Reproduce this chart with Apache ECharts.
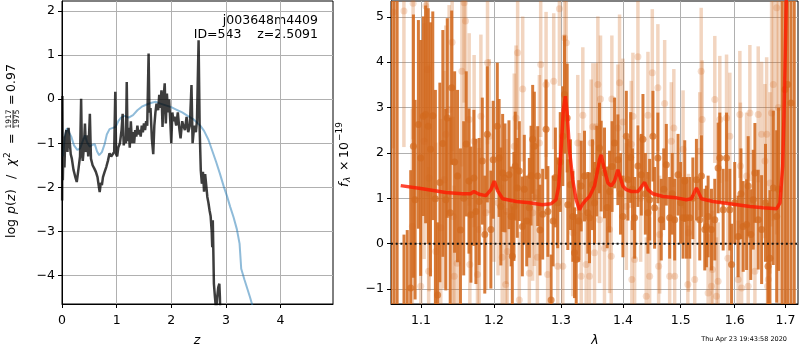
<!DOCTYPE html>
<html>
<head>
<meta charset="utf-8">
<script src="https://cdn.jsdelivr.net/npm/echarts@6/dist/echarts.min.js"></script>
<style>
    html, body { margin: 0; padding: 0; background: #fff; }
    #main { width: 800px; height: 350px; }
</style>
</head>
<body>
<div id="main"></div>
<script type="text/javascript">
// ---- left panel: p(z) and chi2 curves ----
var pzZ = [0.003,0.008,0.015,0.03,0.045,0.06,0.08,0.10,0.12,0.14,
    0.16,0.18,0.21,0.24,0.27,0.30,0.33,0.35,0.365,0.38,
    0.40,0.42,0.44,0.46,0.48,0.51,0.53,0.56,0.59,0.62,
    0.65,0.67,0.69,0.71,0.73,0.75,0.78,0.81,0.84,0.87,
    0.90,0.93,0.955,0.975,0.99,1.01,1.03,1.06,1.09,1.11,
    1.13,1.15,1.17,1.185,1.20,1.22,1.24,1.26,1.28,1.30,
    1.32,1.34,1.36,1.38,1.40,1.42,1.44,1.46,1.48,1.50,
    1.52,1.54,1.56,1.585,1.60,1.62,1.645,1.67,1.69,1.71,
    1.73,1.76,1.78,1.80,1.82,1.84,1.86,1.88,1.90,1.92,
    1.94,1.96,1.98,2.00,2.02,2.04,2.06,2.09,2.12,2.15,
    2.17,2.20,2.22,2.25,2.28,2.31,2.34,2.37,2.39,2.42,
    2.45,2.47,2.50,2.52,2.54,2.56,2.58,2.60,2.62,2.64,
    2.66,2.68,2.70,2.72,2.74,2.75,2.76,2.78,2.80,2.82,
    2.84,2.86,2.88,2.89,2.90];
var pzLogp = [-2.3,0.07,-1.84,-0.85,-1.55,-0.85,-0.70,-1.20,-0.65,-0.63,
    -1.25,-1.35,-1.60,-1.75,-1.88,-1.60,-1.30,0.01,-1.20,-1.40,
    -1.10,-0.55,-1.20,-0.82,-1.30,-0.33,-1.35,-1.50,-1.57,-1.65,
    -1.77,-1.95,-2.11,-1.90,-1.95,-1.77,-1.65,-1.54,-1.40,-1.23,
    -1.30,-1.31,-1.20,0.17,-1.25,-1.30,-1.10,-1.00,-0.70,-0.33,
    -1.05,-0.85,-1.00,0.39,-0.95,-0.65,-1.10,-0.50,-1.00,-0.75,
    -1.00,-0.70,-0.85,-0.60,-0.80,-0.70,-0.85,-0.60,-0.75,-0.55,
    -0.70,-0.50,-0.60,1.04,-0.30,-0.20,-0.90,-1.25,-0.60,-0.30,
    -0.10,-0.25,0.10,-0.20,0.20,-0.63,0.05,0.36,-0.55,0.13,
    -0.30,0.00,-0.45,-1.00,-0.30,-0.50,-0.40,-0.60,-0.30,-0.70,
    -0.89,-0.50,-0.60,-0.70,-0.40,-0.75,-0.60,0.32,-1.00,-0.60,
    -0.75,-0.50,1.34,-0.70,-1.61,-1.92,-1.65,-2.10,-1.70,-1.69,
    -2.22,-2.35,-2.52,-2.65,-3.00,-3.36,-2.75,-4.19,-4.50,-4.80,
    -4.50,-4.27,-4.19,-4.50,-5.00];

var chiZ = [0.02,0.05,0.09,0.12,0.17,0.22,0.28,0.33,0.38,0.42,
    0.46,0.51,0.55,0.60,0.64,0.68,0.73,0.78,0.82,0.87,
    0.93,0.98,1.03,1.08,1.15,1.22,1.30,1.38,1.46,1.55,
    1.64,1.72,1.80,1.90,2.00,2.10,2.20,2.30,2.40,2.47,
    2.53,2.60,2.68,2.75,2.82,2.89,2.96,3.02,3.08,3.14,
    3.20,3.25,3.28,3.34,3.44,3.50];
var chiVal = [-1.30,-0.85,-0.66,-0.68,-0.85,-1.05,-1.15,-1.12,-0.95,-0.82,
    -0.98,-1.08,-1.04,-1.02,-1.18,-1.27,-1.20,-1.02,-0.80,-0.68,
    -0.65,-0.63,-0.50,-0.42,-0.38,-0.42,-0.36,-0.25,-0.17,-0.12,
    -0.08,-0.06,-0.10,-0.14,-0.18,-0.24,-0.30,-0.38,-0.45,-0.53,
    -0.60,-0.72,-0.92,-1.17,-1.42,-1.69,-1.98,-2.20,-2.45,-2.68,
    -2.95,-3.28,-3.85,-4.10,-4.49,-4.75];

// ---- right panel: spectrum ----
var darkLam = [1.0609,1.0650,1.0690,1.0778,1.0820,1.0865,1.0900,1.0922,1.0965,1.0995,
    1.1030,1.1060,1.1095,1.1125,1.1155,1.1190,1.1220,1.1250,1.1290,1.1330,
    1.1350,1.1390,1.1410,1.1450,1.1490,1.1530,1.1575,1.1610,1.1648,1.1675,
    1.1717,1.1745,1.1790,1.1835,1.1870,1.1906,1.1957,1.1990,1.2049,1.2075,
    1.2100,1.2126,1.2160,1.2218,1.2250,1.2267,1.2291,1.2310,1.2340,1.2370,
    1.2415,1.2444,1.2480,1.2519,1.2545,1.2569,1.2594,1.2645,1.2680,1.2720,
    1.2772,1.2800,1.2849,1.2880,1.2915,1.2950,1.2990,1.3030,1.3056,1.3098,
    1.3108,1.3150,1.3187,1.3213,1.3240,1.3280,1.3319,1.3372,1.3425,1.3452,
    1.3500,1.3533,1.3570,1.3614,1.3641,1.3695,1.3740,1.3778,1.3820,1.3861,
    1.3916,1.3960,1.4000,1.4057,1.4084,1.4130,1.4160,1.4197,1.4253,1.4311,
    1.4339,1.4380,1.4425,1.4454,1.4511,1.4540,1.4597,1.4656,1.4700,1.4745,
    1.4804,1.4850,1.4893,1.4953,1.5000,1.5043,1.5073,1.5104,1.5163,1.5220,
    1.5285,1.5346,1.5377,1.5438,1.5469,1.5500,1.5562,1.5624,1.5686,1.5718,
    1.5781,1.5845,1.5907,1.5940,1.6000,1.6066,1.6120,1.6163,1.6229,1.6260,
    1.6310,1.6358,1.6391,1.6456,1.6523,1.6600,1.6650,1.6688,1.6755,1.6823,
    1.6860,1.6930,1.6991,1.7046,1.7113,1.7180];
var darkFlux = [6.5,-2.5,7.0,-1.9,-1.5,-0.98,2.15,0.97,2.63,1.89,
    2.81,2.85,2.59,2.08,2.82,0.99,-1.13,1.35,2.21,0.97,
    2.77,0.68,3.44,1.80,1.49,0.30,1.00,2.20,1.38,0.64,
    1.45,0.71,0.93,1.82,0.20,2.41,0.31,1.85,2.59,1.89,
    0.82,1.56,1.45,1.52,0.60,-0.28,0.82,1.71,1.23,1.60,
    0.38,1.20,0.50,0.79,1.50,2.30,2.15,1.49,0.30,0.65,
    2.52,0.71,-1.24,0.50,1.46,0.90,1.80,2.37,3.29,2.77,
    0.86,1.30,0.60,-0.20,-0.35,0.50,1.27,1.49,0.68,0.57,
    1.30,0.90,1.60,2.11,1.71,1.56,0.80,1.15,1.70,2.22,
    1.85,1.10,0.60,2.37,1.41,1.90,1.20,0.57,1.71,1.52,
    2.30,1.10,0.68,0.97,2.37,0.79,1.89,0.53,1.20,1.74,
    0.57,1.10,0.53,1.52,0.90,0.57,1.38,0.57,0.57,1.00,
    1.41,0.53,1.49,0.31,0.38,0.60,0.31,0.53,1.67,1.89,
    0.75,1.89,0.75,-0.46,0.90,0.16,1.10,0.38,0.42,1.27,
    0.20,0.97,1.56,0.53,0.31,0.90,-0.50,-0.32,1.23,0.60,
    1.20,6.0,3.40,3.51,3.10,-2.0];
var darkErr = [10,10,10,2.1,1.8,2.6,2.9,2.2,2.3,2.6,
    2.2,2.4,2.6,2.8,2.3,2.4,1.6,2.2,2.5,2.0,
    2.2,2.1,1.7,2.0,1.9,1.8,1.7,1.6,1.6,1.5,
    1.5,1.6,1.4,1.4,1.3,1.5,1.3,1.3,1.4,1.3,
    1.3,1.3,1.2,1.2,1.1,1.1,1.2,1.2,1.1,1.1,
    1.1,1.2,1.0,1.1,1.1,1.2,1.2,1.1,1.0,1.0,
    1.1,1.0,1.0,1.0,1.1,1.0,1.1,1.1,1.3,1.2,
    1.0,1.0,1.0,1.0,1.0,0.9,1.0,1.0,0.9,1.0,
    1.0,0.9,1.0,1.0,1.0,1.0,0.9,0.9,1.0,1.0,
    1.0,0.9,0.9,1.0,0.9,1.0,0.9,0.9,0.9,0.9,
    1.0,0.9,0.9,0.9,1.0,0.9,1.0,0.9,0.9,0.9,
    0.9,0.9,0.9,0.9,0.9,0.9,0.9,0.9,0.9,0.9,
    0.9,0.9,0.9,0.9,0.9,0.9,0.9,0.9,1.0,1.0,
    0.9,1.0,0.9,0.9,0.9,0.9,1.0,1.0,1.0,1.1,
    1.0,1.1,1.1,1.1,1.2,1.3,1.4,1.5,1.7,1.9,
    1.8,10,10,10,10,10];

var lightLam = [1.0640,1.0777,1.0886,1.0896,1.0996,1.1040,1.1062,1.1083,1.1100,1.1106,
    1.1195,1.1262,1.1307,1.1330,1.1375,1.1416,1.1430,1.1444,1.1485,1.1550,
    1.1581,1.1600,1.1651,1.1660,1.1720,1.1767,1.1791,1.1815,1.1886,1.1909,
    1.1933,1.2000,1.2060,1.2120,1.2170,1.2185,1.2194,1.2296,1.2322,1.2345,
    1.2370,1.2420,1.2519,1.2569,1.2594,1.2640,1.2670,1.2690,1.2772,1.2796,
    1.2889,1.2951,1.2977,1.3030,1.3057,1.3084,1.3187,1.3265,1.3290,1.3319,
    1.3345,1.3399,1.3452,1.3479,1.3506,1.3533,1.3560,1.3587,1.3614,1.3630,
    1.3695,1.3778,1.3806,1.3816,1.3916,1.3944,1.4000,1.4057,1.4140,1.4150,
    1.4168,1.4197,1.4253,1.4300,1.4396,1.4425,1.4454,1.4500,1.4597,1.4610,
    1.4628,1.4716,1.4804,1.4833,1.4878,1.4893,1.5043,1.5129,1.5140,1.5254,
    1.5346,1.5372,1.5390,1.5500,1.5562,1.5580,1.5624,1.5655,1.5686,1.5718,
    1.5845,1.5870,1.5907,1.6066,1.6099,1.6110,1.6132,1.6229,1.6260,1.6293,
    1.6391,1.6456,1.6523,1.6589,1.6623,1.6640,1.6656,1.6688,1.6721,1.6755,
    1.6823,1.6856];
var lightFlux = [5.10,5.13,0.38,5.30,-0.94,2.26,5.24,3.84,-0.61,1.45,
    -0.17,0.35,1.41,2.41,2.96,4.44,0.60,-0.72,-0.43,3.80,
    5.31,4.91,2.74,-0.46,2.26,-0.68,0.31,2.81,0.68,3.99,
    2.37,1.30,0.90,-0.30,-0.90,0.71,-0.17,2.15,2.77,4.21,
    -1.24,3.41,-0.65,0.68,1.01,-0.30,2.22,3.95,3.51,-0.68,
    3.58,-0.50,5.18,-0.50,4.54,4.43,0.24,2.22,1.04,-0.72,
    2.83,-0.46,-0.72,2.22,2.58,-0.20,2.58,3.51,0.53,3.19,
    -0.10,0.31,-0.28,3.19,2.55,3.55,2.68,0.82,2.19,-0.79,
    2.81,-0.35,4.12,1.00,-1.16,2.83,-0.72,3.77,3.44,-0.50,
    0.20,3.09,-0.72,2.26,2.55,-0.72,2.08,-0.90,0.24,-0.79,
    2.04,3.80,2.74,-1.09,-0.94,-0.57,3.18,-1.16,-0.83,2.74,
    2.77,-0.32,2.37,-0.79,2.85,1.71,-0.98,1.49,-0.94,2.88,
    -0.61,2.85,2.41,1.82,2.41,-0.94,-0.79,1.34,2.88,3.51,
    5.20,3.00];
var lightErr = [3.0,3.0,2.6,3.0,2.2,2.6,3.0,2.8,2.3,2.5,
    2.4,2.4,2.4,2.4,2.3,2.4,2.2,2.0,2.0,2.1,
    2.2,2.2,1.9,1.9,1.9,1.8,1.8,1.8,1.7,1.8,
    1.7,1.7,1.6,1.6,1.6,1.6,1.6,1.6,1.6,1.7,
    1.5,1.6,1.5,1.5,1.5,1.5,1.5,1.6,1.6,1.5,
    1.5,1.5,1.7,1.5,1.6,1.6,1.4,1.5,1.4,1.4,
    1.5,1.4,1.4,1.4,1.4,1.4,1.4,1.5,1.4,1.4,
    1.4,1.4,1.4,1.4,1.4,1.5,1.4,1.4,1.4,1.3,
    1.4,1.4,1.5,1.4,1.3,1.4,1.3,1.4,1.4,1.3,
    1.3,1.4,1.3,1.3,1.3,1.3,1.3,1.3,1.3,1.3,
    1.3,1.4,1.3,1.3,1.3,1.3,1.4,1.3,1.3,1.4,
    1.4,1.3,1.4,1.3,1.4,1.4,1.3,1.4,1.4,1.5,
    1.5,1.5,1.6,1.7,1.7,1.7,1.8,2.0,2.5,3.0,
    5.0,5.0];

var modelLam = [1.0736,1.1017,1.1330,1.1555,1.1671,1.1717,1.1745,1.1791,1.1886,1.1957,
    1.2005,1.2053,1.2126,1.2325,1.2519,1.2714,1.2849,1.2925,1.2966,1.3003,
    1.3039,1.3070,1.3097,1.3133,1.3185,1.3239,1.3292,1.3344,1.3399,1.3452,
    1.3533,1.3614,1.3641,1.3695,1.3750,1.3806,1.3861,1.3916,1.3944,1.3999,
    1.4056,1.4141,1.4253,1.4338,1.4368,1.4425,1.4511,1.4686,1.4924,1.5103,
    1.5194,1.5285,1.5377,1.5592,1.5907,1.6293,1.6554,1.6822,1.6889,1.6944,
    1.6970,1.6991,1.7021];
var modelFlux = [1.28,1.21,1.13,1.10,1.10,1.15,1.17,1.09,1.06,1.19,
    1.38,1.17,0.99,0.93,0.90,0.86,0.88,0.97,1.27,2.08,
    2.96,3.25,2.89,2.08,1.41,0.97,0.75,0.88,0.97,1.04,
    1.27,1.85,1.96,1.63,1.34,1.27,1.38,1.63,1.65,1.27,
    1.19,1.15,1.15,1.30,1.35,1.19,1.10,1.04,1.01,0.97,
    0.99,1.23,0.99,0.93,0.88,0.82,0.79,0.77,0.90,1.71,
    2.81,3.91,5.60];

var zTicks = [0, 1, 2, 3, 4];
var pzTicks = [-4, -3, -2, -1, 0, 1, 2];
var lamTicks = [1.1, 1.2, 1.3, 1.4, 1.5, 1.6, 1.7];
var fluxTicks = [-1, 0, 1, 2, 3, 4, 5];

var LAM_MIN = 1.0612, LAM_MAX = 1.7257;
var F_MIN = -1.33, F_MAX = 5.35;
var FONT = '"DejaVu Sans"';
var DARK = 'rgba(210,105,30,0.88)';
var LIGHT = 'rgba(210,105,30,0.28)';

function zip(a, b) {
    var out = [];
    for (var i = 0; i < a.length; i++) out.push([a[i], b[i]]);
    return out;
}
function spec(lam, flux, err) {
    var out = [];
    for (var i = 0; i < lam.length; i++) out.push([Math.log(lam[i]), flux[i], err ? err[i] : 0]);
    return out;
}
function minus(v) { return String(v).replace('-', '\u2212'); }

function errBar(color, width) {
    return function (params, api) {
        var x = api.value(0), y = api.value(1), e = api.value(2);
        var lo = Math.max(y - e, F_MIN - 0.2), hi = Math.min(y + e, F_MAX + 0.2);
        var p1 = api.coord([x, lo]), p2 = api.coord([x, hi]);
        return {
            type: 'line',
            shape: { x1: p1[0], y1: p1[1], x2: p2[0], y2: p2[1] },
            style: { stroke: color, lineWidth: width }
        };
    };
}

// rotated label pieces (local x runs bottom -> top on screen)
function piece(text, x, y, font, align) {
    return {
        type: 'text', x: x, y: y,
        style: {
            text: text, fill: '#000', font: font + ' ' + FONT,
            align: align || 'left', textAlign: align || 'left',
            verticalAlign: 'middle', textVerticalAlign: 'middle'
        }
    };
}

var tickLabel = { color: '#000', fontSize: 12.5, fontFamily: FONT };
var axisLine = { show: true, onZero: false, lineStyle: { color: '#000', width: 1 } };
var gridLine = { show: true, lineStyle: { color: '#b0b0b0', width: 1 } };

var myChart = echarts.init(document.getElementById('main'), null, { renderer: 'canvas' });

var lamLog = lamTicks.map(Math.log);

var option = {
    animation: false,
    backgroundColor: '#fff',
    grid: [
        { left: 62, top: 1, width: 271, height: 303, show: true, borderColor: '#000', borderWidth: 1, backgroundColor: 'transparent' },
        { left: 391, top: 1, width: 407, height: 303, show: true, borderColor: '#000', borderWidth: 1, backgroundColor: 'transparent' }
    ],
    xAxis: [
        {
            gridIndex: 0, type: 'value', min: 0, max: 4.96,
            axisLine: axisLine,
            axisTick: { show: true, length: 4, lineStyle: { color: '#000' }, customValues: zTicks },
            axisLabel: Object.assign({ margin: 10, customValues: zTicks, formatter: minus }, tickLabel),
            splitLine: gridLine
        },
        {
            gridIndex: 1, type: 'value', min: Math.log(LAM_MIN), max: Math.log(LAM_MAX),
            axisLine: axisLine,
            axisTick: { show: true, length: 4, lineStyle: { color: '#000' }, customValues: lamLog },
            axisLabel: Object.assign({
                margin: 10, customValues: lamLog,
                formatter: function (v) { return Math.exp(v).toFixed(1); }
            }, tickLabel),
            splitLine: gridLine
        }
    ],
    yAxis: [
        {
            gridIndex: 0, type: 'value', min: -4.65, max: 2.23,
            axisLine: axisLine,
            axisTick: { show: true, length: 4, lineStyle: { color: '#000' }, customValues: pzTicks },
            axisLabel: Object.assign({ margin: 7, customValues: pzTicks, formatter: minus }, tickLabel),
            splitLine: gridLine
        },
        {
            gridIndex: 1, type: 'value', min: F_MIN, max: F_MAX,
            axisLine: axisLine,
            axisTick: { show: true, length: 4, lineStyle: { color: '#000' }, customValues: fluxTicks },
            axisLabel: Object.assign({ margin: 7, customValues: fluxTicks, formatter: minus }, tickLabel),
            splitLine: gridLine
        }
    ],
    series: [
        {
            name: 'chi2', type: 'line', xAxisIndex: 0, yAxisIndex: 0,
            data: zip(chiZ, chiVal), symbol: 'none', clip: true,
            lineStyle: { color: 'rgba(31,119,180,0.5)', width: 2 }
        },
        {
            name: 'pz', type: 'line', xAxisIndex: 0, yAxisIndex: 0,
            data: zip(pzZ, pzLogp), symbol: 'none', clip: true,
            lineStyle: { color: 'rgba(0,0,0,0.76)', width: 2.5 }
        },
        {
            name: 'light bars', type: 'custom', xAxisIndex: 1, yAxisIndex: 1,
            data: spec(lightLam, lightFlux, lightErr), renderItem: errBar(LIGHT, 3.5), clip: true,
            encode: { x: 0, y: 1 }
        },
        {
            name: 'light pts', type: 'scatter', xAxisIndex: 1, yAxisIndex: 1,
            data: spec(lightLam, lightFlux), symbolSize: 7, clip: true,
            itemStyle: { color: LIGHT }
        },
        {
            name: 'dark bars', type: 'custom', xAxisIndex: 1, yAxisIndex: 1,
            data: spec(darkLam, darkFlux, darkErr), renderItem: errBar(DARK, 3), clip: true,
            encode: { x: 0, y: 1 }
        },
        {
            name: 'dark pts', type: 'scatter', xAxisIndex: 1, yAxisIndex: 1,
            data: spec(darkLam, darkFlux), symbolSize: 7, clip: true,
            itemStyle: { color: DARK }
        },
        {
            name: 'model', type: 'line', xAxisIndex: 1, yAxisIndex: 1,
            data: spec(modelLam, modelFlux), symbol: 'none', clip: true,
            lineStyle: { color: 'rgba(255,25,0,0.8)', width: 3.5 }
        },
        {
            name: 'zero', type: 'line', xAxisIndex: 1, yAxisIndex: 1,
            data: [[Math.log(LAM_MIN), 0], [Math.log(LAM_MAX), 0]], symbol: 'none',
            lineStyle: { color: '#111', width: 2, type: [2, 2.7] }
        }
    ],
    graphic: [
        {
            type: 'text', x: 318, y: 13,
            style: {
                text: 'j003648m4409\nID=543    z=2.5091', fill: '#000',
                font: '12.5px ' + FONT, lineHeight: 14.5,
                align: 'right', textAlign: 'right', verticalAlign: 'top', textVerticalAlign: 'top'
            }
        },
        {
            type: 'text', x: 197, y: 341,
            style: { text: 'z', fill: '#000', font: 'italic 12.5px ' + FONT, align: 'center', textAlign: 'center', verticalAlign: 'middle', textVerticalAlign: 'middle' }
        },
        {
            type: 'text', x: 595, y: 341,
            style: { text: 'λ', fill: '#000', font: 'italic 12.5px ' + FONT, align: 'center', textAlign: 'center', verticalAlign: 'middle', textVerticalAlign: 'middle' }
        },
        {
            type: 'text', x: 787, y: 339,
            style: { text: 'Thu Apr 23 19:43:58 2020', fill: '#000', font: '6.5px ' + FONT, align: 'right', textAlign: 'right', verticalAlign: 'middle', textVerticalAlign: 'middle' }
        },
        // y label of the p(z) panel, drawn bottom to top
        {
            type: 'group', x: 11.5, y: 238, rotation: Math.PI / 2,
            children: [
                piece('log', 0, 0, '12.5px'),
                piece('p', 24, 0, 'italic 12.5px'),
                piece('(', 32, 0, '12.5px'),
                piece('z', 37, 0, 'italic 12.5px'),
                piece(')', 44, 0, '12.5px'),
                piece('/', 59, 0, '12.5px'),
                piece('χ', 72, 0, 'italic 12.5px'),
                piece('2', 80, -4, '9px'),
                piece('=', 94, 0, '12.5px'),
                piece('1917', 119, -2.5, '7.5px', 'center'),
                { type: 'line', shape: { x1: 110, y1: 1.5, x2: 128, y2: 1.5 }, style: { stroke: '#000', lineWidth: 0.8 } },
                piece('1975', 119, 5.5, '7.5px', 'center'),
                piece('=', 133, 0, '12.5px'),
                piece('0.97', 146, 0, '12.5px')
            ]
        },
        // y label of the spectrum panel
        {
            type: 'group', x: 345, y: 187, rotation: Math.PI / 2,
            children: [
                piece('f', 0, 0, 'italic 12.5px'),
                piece('λ', 5, 3, 'italic 9px'),
                piece('×', 16, 0, '12.5px'),
                piece('10', 29, 0, '12.5px'),
                piece('\u221219', 46, -5, '9px')
            ]
        }
    ]
};

myChart.setOption(option);
</script>
</body>
</html>
